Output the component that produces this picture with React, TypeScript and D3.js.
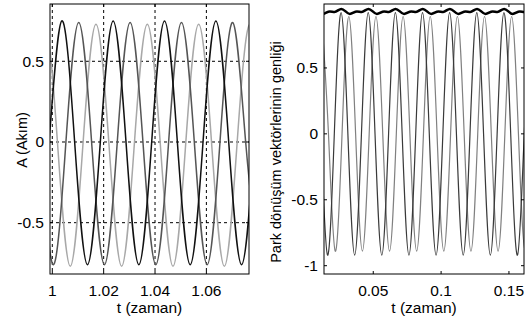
import React, { useRef, useEffect } from "react";
import * as d3 from "d3";

// left panel: three phase currents (t, A)
const phaseA = [
  [0.9937, -0.76], [0.9987, 0], [1.0037, 0.75], [1.0087, 0], [1.0137, -0.76], [1.0187, 0],
  [1.0237, 0.75], [1.0287, 0], [1.0337, -0.76], [1.0387, 0], [1.0437, 0.75], [1.0487, 0],
  [1.0537, -0.76], [1.0587, 0], [1.0637, 0.75], [1.0687, 0], [1.0737, -0.76], [1.0787, 0],
];
const phaseB = [
  [0.9903, 0.74], [0.9953, 0], [1.0003, -0.76], [1.0053, 0], [1.0103, 0.74], [1.0153, 0],
  [1.0203, -0.76], [1.0253, 0], [1.0303, 0.74], [1.0353, 0], [1.0403, -0.76], [1.0453, 0],
  [1.0503, 0.74], [1.0553, 0], [1.0603, -0.76], [1.0653, 0], [1.0703, 0.74], [1.0753, 0],
  [1.0803, -0.76],
];
const phaseC = [
  [0.992, 0], [0.997, 0.73], [1.002, 0], [1.007, -0.77], [1.012, 0], [1.017, 0.73],
  [1.022, 0], [1.027, -0.77], [1.032, 0], [1.037, 0.73], [1.042, 0], [1.047, -0.77],
  [1.052, 0], [1.057, 0.73], [1.062, 0], [1.067, -0.77], [1.072, 0], [1.077, 0.73],
  [1.082, 0],
];

// right panel: park vector components and amplitude
const parkD = [
  [0.0063, 0.92], [0.0113, 0], [0.0163, -0.92], [0.0213, 0], [0.0263, 0.92], [0.0313, 0],
  [0.0363, -0.92], [0.0413, 0], [0.0463, 0.92], [0.0513, 0], [0.0563, -0.92], [0.0613, 0],
  [0.0663, 0.92], [0.0713, 0], [0.0763, -0.92], [0.0813, 0], [0.0863, 0.92], [0.0913, 0],
  [0.0963, -0.92], [0.1013, 0], [0.1063, 0.92], [0.1113, 0], [0.1163, -0.92], [0.1213, 0],
  [0.1263, 0.92], [0.1313, 0], [0.1363, -0.92], [0.1413, 0], [0.1463, 0.92], [0.1513, 0],
  [0.1563, -0.92], [0.1613, 0], [0.1663, 0.92],
];
const parkQ = [
  [0.012, 0.89], [0.017, 0], [0.022, -0.89], [0.027, 0], [0.032, 0.89], [0.037, 0],
  [0.042, -0.89], [0.047, 0], [0.052, 0.89], [0.057, 0], [0.062, -0.89], [0.067, 0],
  [0.072, 0.89], [0.077, 0], [0.082, -0.89], [0.087, 0], [0.092, 0.89], [0.097, 0],
  [0.102, -0.89], [0.107, 0], [0.112, 0.89], [0.117, 0], [0.122, -0.89], [0.127, 0],
  [0.132, 0.89], [0.137, 0], [0.142, -0.89], [0.147, 0], [0.152, 0.89], [0.157, 0],
  [0.162, -0.89], [0.167, 0],
];
const parkAmp = [
  [0.0065, 0.948], [0.0127, 0.909], [0.018, 0.929], [0.0215, 0.925],
  [0.0265, 0.948], [0.0327, 0.909], [0.038, 0.929], [0.0415, 0.925],
  [0.0465, 0.948], [0.0527, 0.909], [0.058, 0.929], [0.0615, 0.925],
  [0.0665, 0.948], [0.0727, 0.909], [0.078, 0.929], [0.0815, 0.925],
  [0.0865, 0.948], [0.0927, 0.909], [0.098, 0.929], [0.1015, 0.925],
  [0.1065, 0.948], [0.1127, 0.909], [0.118, 0.929], [0.1215, 0.925],
  [0.1265, 0.948], [0.1327, 0.909], [0.138, 0.929], [0.1415, 0.925],
  [0.1465, 0.948], [0.1527, 0.909], [0.158, 0.929], [0.1615, 0.925],
  [0.1665, 0.948],
];

const leftTicksX = [1, 1.02, 1.04, 1.06];
const leftTickLabelsX = ["1", "1.02", "1.04", "1.06"];
const leftTicksY = [-0.5, 0, 0.5];
const leftTickLabelsY = ["-0.5", "0", "0.5"];
const rightTicksX = [0.05, 0.1, 0.15];
const rightTickLabelsX = ["0.05", "0.1", "0.15"];
const rightTicksY = [-1, -0.5, 0, 0.5];
const rightTickLabelsY = ["-1", "-0.5", "0", "0.5"];

const FONT = "'Liberation Sans', Arial, sans-serif";

export default function App() {
  const svgRef = useRef<SVGSVGElement>(null);

  useEffect(() => {
    const svg = d3.select(svgRef.current);
    svg.selectAll("*").remove();

    function panel(opts) {
      const { id, x0, x1, y0, y1, xDom, yDom, xt, xtl, yt, ytl, grid, ylabel, ylabelX, ylabelY, ylabelSize } = opts;
      const x = d3.scaleLinear().domain(xDom).range([x0, x1]);
      const y = d3.scaleLinear().domain(yDom).range([y1, y0]);
      const g = svg.append("g");

      g.append("clipPath").attr("id", id).append("rect")
        .attr("x", x0).attr("y", y0).attr("width", x1 - x0).attr("height", y1 - y0);

      g.append("rect").attr("x", x0).attr("y", y0).attr("width", x1 - x0).attr("height", y1 - y0)
        .attr("fill", "white");

      if (grid) {
        g.selectAll(".gx").data(xt).join("line")
          .attr("x1", (d) => x(d)).attr("x2", (d) => x(d)).attr("y1", y0).attr("y2", y1)
          .attr("stroke", "#000").attr("stroke-width", 1).attr("stroke-dasharray", "3,3");
        g.selectAll(".gy").data(yt).join("line")
          .attr("class", "gy")
          .attr("y1", (d) => y(d)).attr("y2", (d) => y(d)).attr("x1", x0).attr("x2", x1)
          .attr("stroke", "#000").attr("stroke-width", 1).attr("stroke-dasharray", "3,3");
      }

      const lines = g.append("g").attr("clip-path", `url(#${id})`);
      opts.series.forEach((s) => {
        const line = d3.line().x((d) => x(d[0])).y((d) => y(d[1])).curve(s.curve || d3.curveNatural);
        lines.append("path").datum(s.data).attr("fill", "none")
          .attr("stroke", s.color).attr("stroke-width", s.width)
          .attr("d", line);
      });

      // ticks, inward on all four sides
      const tl = 3;
      xt.forEach((v) => {
        g.append("line").attr("x1", x(v)).attr("x2", x(v)).attr("y1", y1).attr("y2", y1 - tl).attr("stroke", "#000");
        g.append("line").attr("x1", x(v)).attr("x2", x(v)).attr("y1", y0).attr("y2", y0 + tl).attr("stroke", "#000");
      });
      yt.forEach((v) => {
        g.append("line").attr("y1", y(v)).attr("y2", y(v)).attr("x1", x0).attr("x2", x0 + tl).attr("stroke", "#000");
        g.append("line").attr("y1", y(v)).attr("y2", y(v)).attr("x1", x1).attr("x2", x1 - tl).attr("stroke", "#000");
      });

      g.append("rect").attr("x", x0).attr("y", y0).attr("width", x1 - x0).attr("height", y1 - y0)
        .attr("fill", "none").attr("stroke", "#000").attr("stroke-width", 1);

      g.selectAll(".xl").data(xt).join("text")
        .attr("x", (d) => x(d)).attr("y", 296).attr("text-anchor", "middle")
        .attr("font-family", FONT).attr("font-size", 15.5).text((d, i) => xtl[i]);
      g.selectAll(".yl").data(yt).join("text")
        .attr("class", "yl")
        .attr("x", x0 - 6).attr("y", (d) => y(d) + 5.5).attr("text-anchor", "end")
        .attr("font-family", FONT).attr("font-size", 15.5).text((d, i) => ytl[i]);

      g.append("text").attr("x", (x0 + x1) / 2).attr("y", 313).attr("text-anchor", "middle")
        .attr("font-family", FONT).attr("font-size", 15.5).text("t (zaman)");
      g.append("text")
        .attr("transform", `translate(${ylabelX},${ylabelY}) rotate(-90)`)
        .attr("text-anchor", "middle").attr("dy", "0.35em")
        .attr("font-family", FONT).attr("font-size", ylabelSize).text(ylabel);
    }

    panel({
      id: "clipL", x0: 50, x1: 249, y0: 4, y1: 274,
      xDom: [0.9991, 1.0766], yDom: [-0.818, 0.855],
      xt: leftTicksX, xtl: leftTickLabelsX, yt: leftTicksY, ytl: leftTickLabelsY,
      grid: true, ylabel: "A (Akım)", ylabelX: 22, ylabelY: 140, ylabelSize: 14.5,
      series: [
        { data: phaseC, color: "#a8a8a8", width: 1.5 },
        { data: phaseB, color: "#555555", width: 1.5 },
        { data: phaseA, color: "#111111", width: 1.5 },
      ],
    });

    panel({
      id: "clipR", x0: 324, x1: 524, y0: 4, y1: 274,
      xDom: [0.0137, 0.1611], yDom: [-1.063, 0.985],
      xt: rightTicksX, xtl: rightTickLabelsX, yt: rightTicksY, ytl: rightTickLabelsY,
      grid: false, ylabel: "Park dönüşüm vektörlerinin genliği", ylabelX: 276, ylabelY: 152, ylabelSize: 14.5,
      series: [
        { data: parkQ, color: "#808080", width: 1.2 },
        { data: parkD, color: "#3a3a3a", width: 1.2 },
        { data: parkAmp, color: "#000000", width: 2.5, curve: d3.curveMonotoneX },
      ],
    });
  }, []);

  return (
    <svg
      ref={svgRef}
      width={531}
      height={324}
      style={{ position: "absolute", left: 0, top: 0, background: "white" }}
    />
  );
}
